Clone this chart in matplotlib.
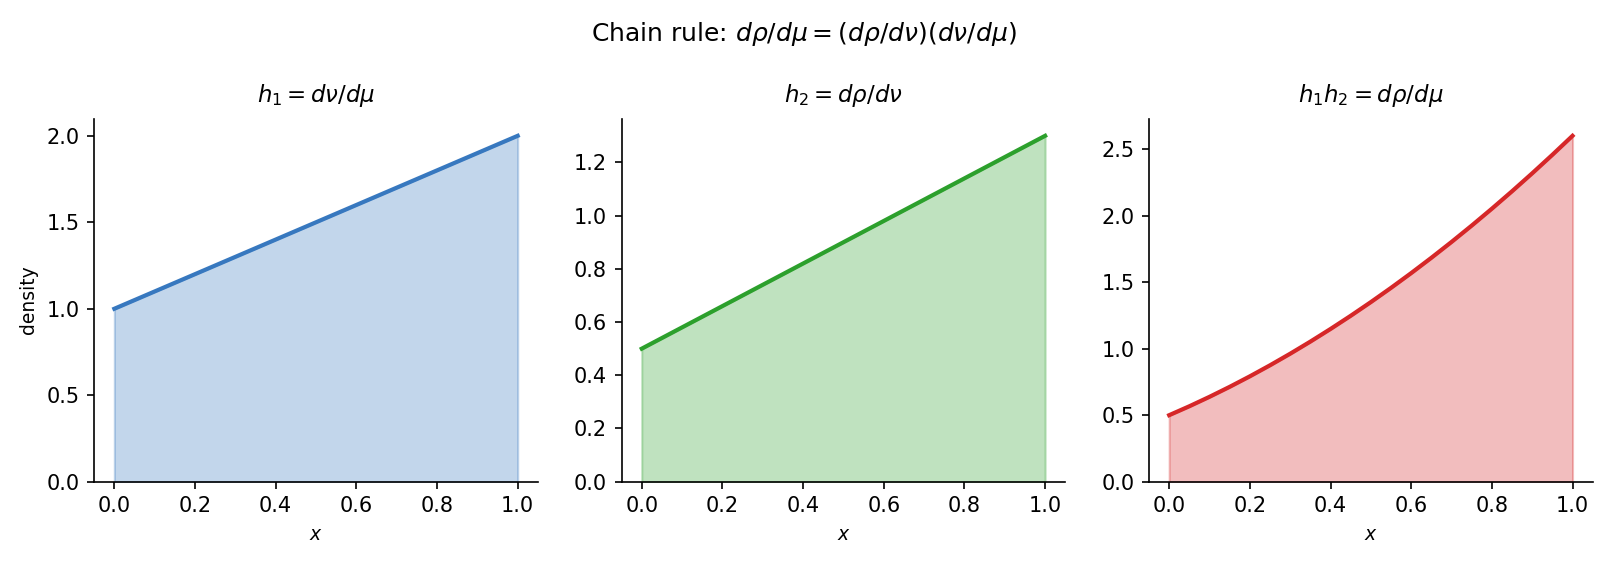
import matplotlib
matplotlib.use('Agg')
from matplotlib import pyplot as plt

# values
x_line = [0.0, 1.0]
h1 = [1.0, 2.0]
h2 = [0.5, 1.3]
x_prod = [0.0, 0.05, 0.1, 0.15, 0.2, 0.25, 0.3, 0.35, 0.4, 0.45, 0.5,
          0.55, 0.6, 0.65, 0.7, 0.75, 0.8, 0.85, 0.9, 0.95, 1.0]
h1h2 = [0.50, 0.567, 0.638, 0.713, 0.792, 0.875, 0.962, 1.053, 1.148, 1.247, 1.35,
        1.457, 1.568, 1.683, 1.802, 1.925, 2.052, 2.183, 2.318, 2.457, 2.60]

titles = [r'$h_1 = d\nu/d\mu$', r'$h_2 = d\rho/d\nu$', r'$h_1 h_2 = d\rho/d\mu$']
colors = ['#3778bf', '#2ca02c', '#d62728']
series = [(x_line, h1), (x_line, h2), (x_prod, h1h2)]
yticks = [[0.0, 0.5, 1.0, 1.5, 2.0],
          [0.0, 0.2, 0.4, 0.6, 0.8, 1.0, 1.2],
          [0.0, 0.5, 1.0, 1.5, 2.0, 2.5]]

fig = plt.figure(figsize=(1607 / 150, 563 / 150), dpi=150)

lefts = [0.0586, 0.3868, 0.7150]
for i, ((xs, ys), title, c) in enumerate(zip(series, titles, colors)):
    ax = fig.add_axes([lefts[i], 0.1444, 0.2761, 0.6451])
    ax.fill_between(xs, 0, ys, color=c, alpha=0.3)
    ax.plot(xs, ys, color=c, lw=2)
    ax.set_xlim(-0.05, 1.05)
    ax.set_ylim(0, max(ys) * 1.05)
    ax.set_yticks(yticks[i])
    ax.set_xticks([0.0, 0.2, 0.4, 0.6, 0.8, 1.0])
    ax.set_title(title, fontsize=11, pad=8)
    ax.set_xlabel('$x$', fontsize=9)
    ax.spines['top'].set_visible(False)
    ax.spines['right'].set_visible(False)
    if i == 0:
        ax.set_ylabel('density', fontsize=9)

fig.suptitle(r'Chain rule: $d\rho/d\mu = (d\rho/d\nu)(d\nu/d\mu)$', fontsize=12, y=0.965)

fig.savefig('out.png', dpi=150)
